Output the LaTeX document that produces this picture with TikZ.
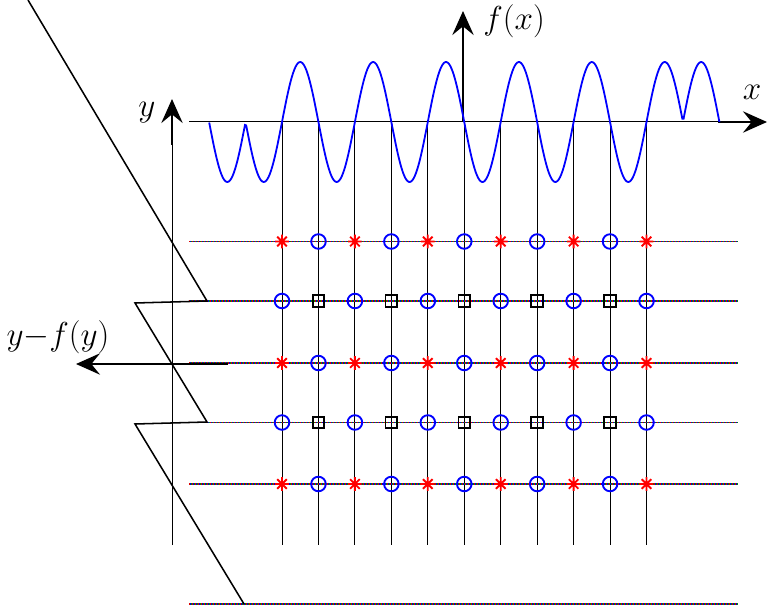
\documentclass[tikz,border=0pt]{standalone}
\usetikzlibrary{arrows.meta}
\begin{document}
\begin{tikzpicture}[x=0.75pt,y=-0.75pt,
  thinax/.style={line width=0.75pt,black},
  bigarrow/.style={line width=1.6pt,-{Stealth[length=18pt,width=16pt,inset=6.5pt]}},
  lbl/.style={font=\fontsize{26}{30}\selectfont,inner sep=0pt},
  wave/.style={blue,line width=1.35pt},
  zig/.style={line width=1.15pt,black,line join=miter},
  marker/.style={line width=1.4pt}]
\useasboundingbox (0,0) rectangle (768,606);
% vertical grid lines
\foreach \k in {0,...,10}
  \draw[thinax] ({282+36.45*\k},122) -- ({282+36.45*\k},545);
% horizontal dotted multicolour lines
\foreach \yy in {241.5,301,363,422.5,484,604}{
  \draw[red!85!black,line width=0.8pt,dash pattern=on 0.75pt off 1.5pt] (189,\yy) -- (738,\yy);
  \draw[green!55!black,line width=0.8pt,dash pattern=on 0.75pt off 1.5pt,dash phase=0.75pt] (189,\yy) -- (738,\yy);
  \draw[blue!85!black,line width=0.8pt,dash pattern=on 0.75pt off 1.5pt,dash phase=1.5pt] (189,\yy) -- (738,\yy);
}
% axes
\draw[thinax] (189,122) -- (720,122);
\coordinate (xs) at (718,122); \coordinate (xe) at (767,122);
\draw[bigarrow] (xs) -- (xe);
\coordinate (fs) at (463,122); \coordinate (fe) at (463,11);
\draw[bigarrow] (fs) -- (fe);
\draw[thinax] (172,545) -- (172,120);
\coordinate (ys) at (172,145); \coordinate (ye) at (172,99);
\draw[bigarrow] (ys) -- (ye);
\coordinate (gs) at (228,364); \coordinate (ge) at (76,364);
\draw[bigarrow] (gs) -- (ge);
% labels
\node[lbl] (lx) at (752,92) {$x$};
\node[lbl] (lf) at (514,21) {$f(x)$};
\node[lbl] (ly) at (147,113) {$y$};
\node[lbl] (lg) at (58,337) {$y{-}f(y)$};
% zigzag
\draw[zig] (28,0) -- (207,301) -- (135,303) -- (207,422) -- (135,424) -- (244,604);
% wave
\draw[wave] plot[domain=209.2:282,samples=60] (\x,{122+60*abs(sin((\x-282)/72.9*360))})
  -- plot[domain=282:646.5,samples=300] (\x,{122-60*sin((\x-282)/72.9*360)})
  -- plot[domain=646.5:719.4,samples=60] (\x,{122-60*abs(sin((\x-282)/72.9*360))});
% markers
\foreach \yy/\t in {241.5/0,301/1,363/0,422.5/1,484/0}{
  \foreach \k in {0,...,10}{
    \pgfmathsetmacro{\xx}{282+36.45*\k}
    \pgfmathtruncatemacro{\odd}{mod(\k,2)}
    \ifnum\t=0
      \ifnum\odd=0
        \draw[marker,red] (\xx-6.8,\yy) -- (\xx+6.8,\yy) (\xx,\yy-6.8) -- (\xx,\yy+6.8)
          (\xx-4.8,\yy-4.8) -- (\xx+4.8,\yy+4.8) (\xx-4.8,\yy+4.8) -- (\xx+4.8,\yy-4.8);
      \else
        \draw[marker,blue] (\xx,\yy) circle[radius=7.3];
      \fi
    \else
      \ifnum\odd=0
        \draw[marker,blue] (\xx,\yy) circle[radius=7.3];
      \else
        \draw[marker,black] (\xx-5.8,\yy-5.8) rectangle (\xx+5.8,\yy+5.8);
      \fi
    \fi
  }
}
\end{tikzpicture}
\end{document}
